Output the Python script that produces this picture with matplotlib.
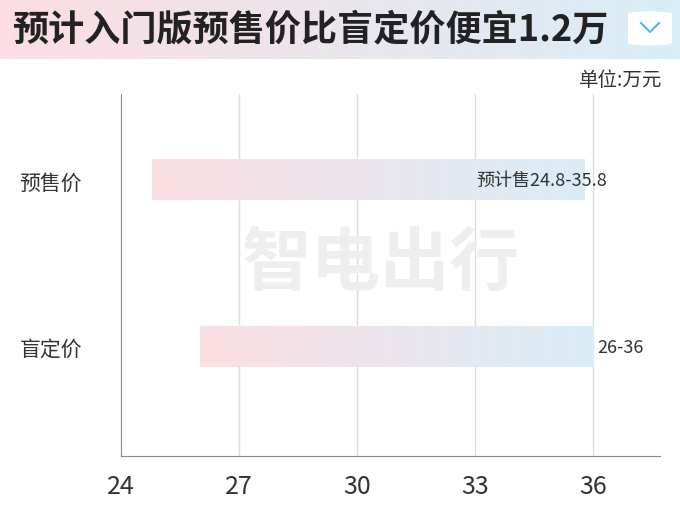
import matplotlib
matplotlib.use("Agg")
import matplotlib.pyplot as plt
import numpy as np
from matplotlib.patches import FancyBboxPatch

plt.rcParams['font.family'] = ['Noto Sans CJK SC', 'DejaVu Sans']

categories = ["预售价", "盲定价"]
starts = [24.8, 26]
ends = [35.8, 36]
labels = ["预计售24.8-35.8", "26-36"]
ticks = [24, 27, 30, 33, 36]

fig = plt.figure(figsize=(6.8, 5.1), dpi=100)

band = fig.add_axes([0, 1 - 60/510, 1, 60/510])
grad = np.linspace(0, 1, 256)[None, :, None]
c1 = np.array([0.99, 0.87, 0.89]); c2 = np.array([0.85, 0.93, 0.97])
band.imshow(c1 + (c2 - c1) * grad, aspect='auto', extent=[0, 1, 0, 1])
band.set_xlim(0, 1); band.set_ylim(0, 1); band.axis('off')
band.text(12/680, 0.5, "预计入门版预售价比盲定价便宜1.2万", fontsize=26, fontweight='bold',
          va='center', ha='left', color='#222222')
band.add_patch(FancyBboxPatch((628/680, 0.22), 44/680, 0.58, boxstyle="round,pad=0,rounding_size=0.05",
                              fc='white', ec='none', transform=band.transAxes))
band.plot([641/680, 650/680, 659/680], [0.60, 0.45, 0.60], color='#4db8e8', lw=1.5)

fig.text(662/680, 1 - 80/510, "单位:万元", fontsize=14, ha='right', va='center', color='#333333')

ax = fig.add_axes([121/680, 53/510, 539/680, 362/510])
ypos = [1 - i for i in range(len(categories))]
for y, s, e, lab in zip(ypos, starts, ends, labels):
    ax.imshow(c1 + (c2 - c1) * grad, aspect='auto', extent=[s, e, y - 0.12, y + 0.12], zorder=2)
    inside = lab.startswith("预计")
    ax.text(e + (0.55 if inside else 0.1), y, lab, fontsize=13,
            ha='right' if inside else 'left', va='center', color='#333333', zorder=3)
ax.set_xlim(24.1, 37.7); ax.set_ylim(-0.653, 1.515)
for t in ticks[1:]:
    ax.axvline(t, color='#dddddd', lw=1, zorder=1)
ax.text(30.6, 0.5, "智电出行", fontsize=50, fontweight='bold', color='#eeeeee',
        ha='center', va='center', zorder=2.5)
ax.set_yticks(ypos)
ax.set_yticklabels(categories, fontsize=15, color='#333333')
ax.set_xticks(ticks)
ax.set_xticklabels([str(t) for t in ticks], fontsize=18, color='#333333', fontweight='light')
ax.tick_params(length=0)
ax.tick_params(axis='x', pad=12)
ax.tick_params(axis='y', pad=28)
for s in ['top', 'right']:
    ax.spines[s].set_visible(False)
for s in ['left', 'bottom']:
    ax.spines[s].set_color('#888888')
fig.savefig("out.png", dpi=100)
